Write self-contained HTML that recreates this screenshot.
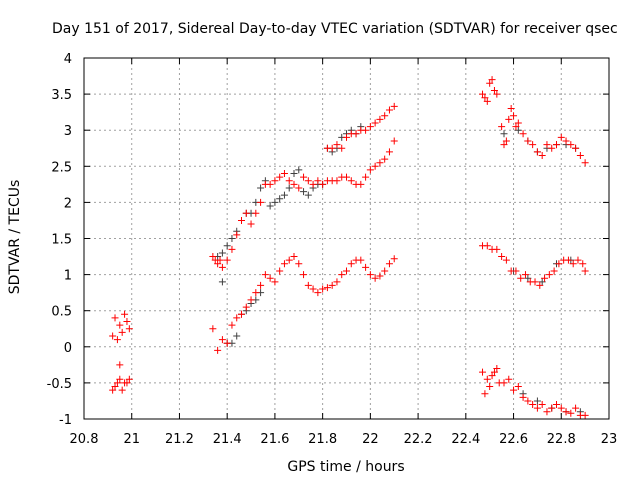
<!DOCTYPE html>
<html><head><meta charset="utf-8"><style>
body{margin:0;background:#fff;}
svg text{font-family:"DejaVu Sans","Liberation Sans",sans-serif;font-size:13px;fill:#000;}
svg text.big{font-size:14px;}
</style></head><body>
<svg id="c" width="640" height="480">
<text class="big" x="52" y="33">Day 151 of 2017, Sidereal Day-to-day VTEC variation (SDTVAR) for receiver qsec</text>
<text class="big" x="0" y="0" transform="translate(19,237) rotate(-90)" text-anchor="middle">SDTVAR / TECUs</text>
<text class="big" x="346" y="471" text-anchor="middle">GPS time / hours</text>
<g id="grid"></g><g id="ticks"></g><g id="marks"></g>
<rect x="84" y="58" width="525" height="361" fill="none" stroke="#000"/>
</svg>
<script>
const xTicks=[20.8,21,21.2,21.4,21.6,21.8,22,22.2,22.4,22.6,22.8,23];
const yTicks=[-1,-0.5,0,0.5,1,1.5,2,2.5,3,3.5,4];
const redX=[20.92,20.93,20.94,20.95,20.96,20.97,20.98,20.99,20.93,20.95,20.97,20.99,20.92,20.94,20.96,20.98,20.95,
21.34,21.35,21.36,21.37,21.38,21.40,21.42,21.44,21.46,21.48,21.50,21.52,21.54,21.56,21.58,21.60,21.62,21.64,21.66,21.68,21.70,21.72,21.74,21.76,21.78,21.80,21.82,21.84,21.86,21.88,21.90,21.92,21.94,21.96,21.98,22.00,22.02,22.04,22.06,22.08,22.10,
21.34,21.36,21.38,21.40,21.42,21.44,21.46,21.48,21.50,21.52,21.54,21.56,21.58,21.60,21.62,21.64,21.66,21.68,21.70,21.72,21.74,21.76,21.78,21.80,21.82,21.84,21.86,21.88,21.90,21.92,21.94,21.96,21.98,22.00,22.02,22.04,22.06,22.08,22.10,
21.82,21.84,21.86,21.88,21.90,21.92,21.94,21.96,21.98,22.00,22.02,22.04,22.06,22.08,22.10,
22.47,22.48,22.49,22.50,22.51,22.52,22.53,22.55,22.56,22.57,22.58,22.59,22.60,22.61,22.62,22.64,22.66,22.68,22.70,22.72,22.74,22.76,22.78,22.80,22.82,22.84,22.86,22.88,22.90,
22.47,22.49,22.51,22.53,22.55,22.57,22.59,22.61,22.63,22.65,22.67,22.69,22.71,22.73,22.75,22.77,22.79,22.81,22.83,22.85,22.87,22.89,22.90,
22.47,22.48,22.49,22.50,22.51,22.52,22.53,22.54,22.56,22.58,22.60,22.62,22.64,22.66,22.68,22.70,22.72,22.74,22.76,22.78,22.80,22.82,22.84,22.86,22.88,22.90];
const redY=[0.15,0.4,0.1,0.3,0.2,0.45,0.35,0.25,-0.55,-0.45,-0.5,-0.45,-0.6,-0.5,-0.6,-0.5,-0.25,
1.25,1.2,1.15,1.2,1.1,1.2,1.35,1.55,1.75,1.85,1.7,1.85,2.0,2.25,2.25,2.3,2.35,2.4,2.3,2.25,2.2,2.35,2.3,2.25,2.3,2.25,2.3,2.3,2.3,2.35,2.35,2.3,2.25,2.25,2.35,2.45,2.5,2.55,2.6,2.7,2.85,
0.25,-0.05,0.1,0.05,0.3,0.4,0.45,0.55,0.65,0.75,0.85,1.0,0.95,0.9,1.05,1.15,1.2,1.25,1.15,1.0,0.85,0.8,0.75,0.8,0.82,0.85,0.9,1.0,1.05,1.15,1.2,1.2,1.1,1.0,0.95,0.98,1.05,1.15,1.22,
2.75,2.75,2.8,2.75,2.9,2.95,2.95,3.0,3.0,3.05,3.1,3.15,3.2,3.28,3.33,
3.5,3.45,3.4,3.65,3.7,3.55,3.5,3.05,2.8,2.85,3.15,3.3,3.2,3.05,3.1,2.95,2.85,2.8,2.7,2.65,2.8,2.75,2.8,2.9,2.85,2.8,2.75,2.65,2.55,
1.4,1.4,1.35,1.35,1.25,1.2,1.05,1.05,0.95,1.0,0.9,0.9,0.85,0.95,1.0,1.05,1.15,1.2,1.2,1.15,1.2,1.15,1.05,
-0.35,-0.65,-0.45,-0.55,-0.4,-0.35,-0.3,-0.5,-0.5,-0.45,-0.6,-0.55,-0.7,-0.75,-0.8,-0.85,-0.8,-0.9,-0.85,-0.8,-0.85,-0.9,-0.92,-0.85,-0.95,-0.95];
const grayX=[21.36,21.38,21.40,21.42,21.44,21.46,21.48,21.50,21.52,21.54,21.56,21.58,21.60,21.62,21.64,21.66,21.68,21.70,21.72,21.74,21.76,21.78,21.80,21.82,21.84,21.86,21.88,21.90,21.92,21.94,21.96,
21.38,21.40,21.42,21.44,21.46,21.48,21.50,21.52,21.54,
22.56,22.62,22.66,22.70,22.74,22.78,22.82,22.86,22.60,22.66,22.72,22.78,22.84,22.64,22.70,22.76,22.82,22.88];
const grayY=[1.25,1.3,1.4,1.5,1.6,1.75,1.85,1.85,2.0,2.2,2.3,1.95,2.0,2.05,2.1,2.2,2.4,2.45,2.15,2.1,2.2,2.25,2.25,2.75,2.7,2.75,2.9,2.95,3.0,2.95,3.05,
0.9,0.05,0.05,0.15,0.45,0.5,0.6,0.65,0.75,
2.95,3.0,2.85,2.7,2.75,2.8,2.8,2.75,1.05,0.95,0.9,1.15,1.2,-0.65,-0.75,-0.85,-0.9,-0.9];
const NS="http://www.w3.org/2000/svg";
const X0=84,X1=609,Y0=419,Y1=58;
function sx(v){return X0+(v-20.8)/(23-20.8)*(X1-X0);}
function sy(v){return Y0-(v+1)/5*(Y0-Y1);}
const grid=document.getElementById('grid'),ticks=document.getElementById('ticks'),marks=document.getElementById('marks');
function mk(tag,a,p){const e=document.createElementNS(NS,tag);for(const k in a)e.setAttribute(k,a[k]);p.appendChild(e);return e;}
xTicks.forEach((t,i)=>{const x=sx(t);
 if(i>0&&i<xTicks.length-1){const g=mk('line',{x1:x,x2:x,y1:Y1,y2:Y0,stroke:'#a0a0a0','stroke-dasharray':'2,3'},grid);
 
 }
 mk('line',{x1:x,x2:x,y1:Y0,y2:Y0-6,stroke:'#000'},ticks);mk('line',{x1:x,x2:x,y1:Y1,y2:Y1+6,stroke:'#000'},ticks);
 const l=mk('text',{x:x,y:443,'text-anchor':'middle'},ticks);l.textContent=t;
 
 });
yTicks.forEach((t,i)=>{const y=sy(t);
 if(i>0&&i<yTicks.length-1){const g=mk('line',{x1:X0,x2:X1,y1:y,y2:y,stroke:'#a0a0a0','stroke-dasharray':'2,3'},grid);
 
 }
 mk('line',{x1:X0,x2:X0+6,y1:y,y2:y,stroke:'#000'},ticks);mk('line',{x1:X1,x2:X1-6,y1:y,y2:y,stroke:'#000'},ticks);
 const l=mk('text',{x:72,y:y+5,'text-anchor':'end'},ticks);l.textContent=t;
 
 });
function plus(x,y,c,name){const p=mk('path',{d:`M${x-3.5},${y}h7M${x},${y-3.5}v7`,stroke:c,'stroke-width':1},marks);
 
 }
grayX.forEach((v,i)=>plus(sx(v),sy(grayY[i]),'#404040','gray-point'));
redX.forEach((v,i)=>plus(sx(v),sy(redY[i]),'#ff0000','red-point'));
</script>
</body></html>
